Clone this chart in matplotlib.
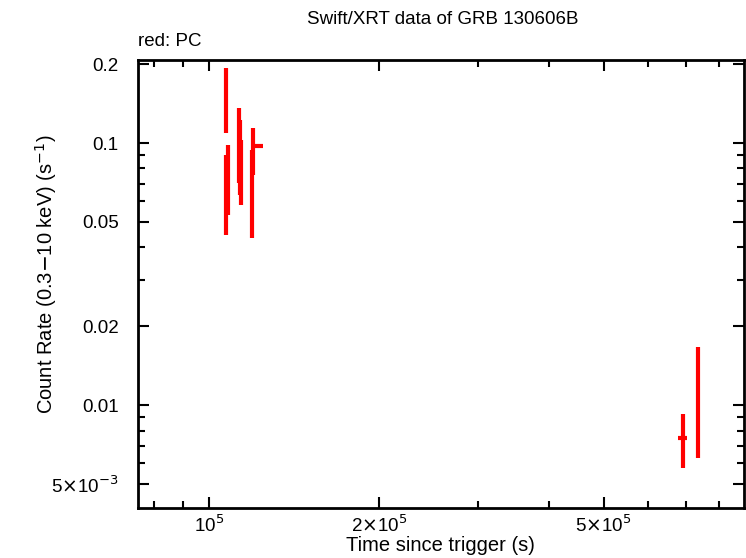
import numpy as np
import matplotlib
matplotlib.use("Agg")
import matplotlib.pyplot as plt
from matplotlib.ticker import FixedLocator, NullFormatter

plt.rcParams['font.family'] = ['Liberation Sans', 'DejaVu Sans']

# PC mode points
t = [1.072e5, 1.075e5, 1.08e5, 1.132e5, 1.137e5, 1.14e5, 1.196e5, 1.195e5, 6.9e5, 7.34e5]
t_lo = [600, 600, 600, 700, 700, 700, 800, 600, 1.2e4, 2e3]
t_hi = [600, 600, 600, 700, 700, 700, 5000, 600, 1.2e4, 2e3]
rate = [0.145, 0.0595, 0.072, 0.098, 0.0824, 0.082, 0.0974, 0.0595, 0.00748, 0.01064]
r_lo = [0.109, 0.0446, 0.053, 0.0704, 0.0633, 0.058, 0.0755, 0.0434, 0.00575, 0.00628]
r_hi = [0.193, 0.090, 0.098, 0.136, 0.122, 0.103, 0.114, 0.094, 0.00925, 0.01663]

rate = np.array(rate)
yerr = [rate - np.array(r_lo), np.array(r_hi) - rate]
xerr = [t_lo, t_hi]

fig = plt.figure(figsize=(7.46, 5.58), dpi=100)
ax = fig.add_axes([0.185, 0.0896, 0.812, 0.803])

ax.errorbar(t, rate, xerr=xerr, yerr=yerr, fmt='none', ecolor='red',
            elinewidth=3, capsize=0)

ax.set_xscale('log')
ax.set_yscale('log')
ax.set_xlim(7.5e4, 8.85e5)
ax.set_ylim(0.00405, 0.2075)

xmaj = [1e5, 2e5, 5e5]
ax.xaxis.set_major_locator(FixedLocator(xmaj))
ax.set_xticklabels([r'10$^5$', r'2$\times$10$^5$', r'5$\times$10$^5$'])
xmin = [8e4, 9e4, 3e5, 4e5, 6e5, 7e5, 8e5]
ax.xaxis.set_minor_locator(FixedLocator(xmin))
ax.xaxis.set_minor_formatter(NullFormatter())

ymaj = [0.005, 0.01, 0.02, 0.05, 0.1, 0.2]
ax.yaxis.set_major_locator(FixedLocator(ymaj))
ax.set_yticklabels([r'5$\times$10$^{-3}$', '0.01', '0.02', '0.05', '0.1', '0.2'])
ymin = [0.006, 0.007, 0.008, 0.009, 0.03, 0.04, 0.06, 0.07, 0.08, 0.09]
ax.yaxis.set_minor_locator(FixedLocator(ymin))
ax.yaxis.set_minor_formatter(NullFormatter())

ax.tick_params(which='both', direction='in', top=True, right=True, width=1.5,
               labelsize=13.5)
ax.tick_params(axis='x', pad=5)
ax.tick_params(axis='y', pad=14)
ax.tick_params(which='major', length=8)
ax.tick_params(which='minor', length=5)
for s in ax.spines.values():
    s.set_linewidth(2)

ax.set_xlabel('Time since trigger (s)', fontsize=14.5)
ax.xaxis.set_label_coords(0.5, -0.062)
ax.set_ylabel(r'Count Rate (0.3$-$10 keV) (s$^{-1}$)', fontsize=14.5)
ax.yaxis.set_label_coords(-0.131, 0.522)
fig.text(0.594, 0.965, 'Swift/XRT data of GRB 130606B', fontsize=13.5,
         ha='center', va='center')
fig.text(0.185, 0.925, 'red: PC', fontsize=13.5, ha='left', va='center')

fig.savefig('out.png', dpi=100)
